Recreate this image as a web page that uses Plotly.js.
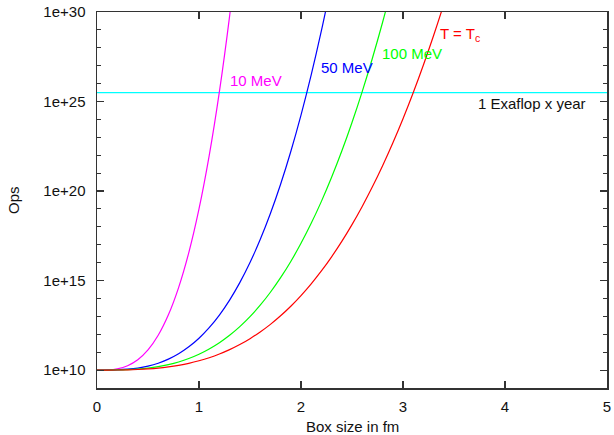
<!DOCTYPE html>
<html>
<head>
<meta charset="utf-8">
<script src="https://cdn.plot.ly/plotly-3.0.1.min.js"></script>
<style>html,body{margin:0;padding:0;background:#fff;}#chart{width:614px;height:435px;}</style>
</head>
<body>
<div id="chart"></div>
<script>
// Box size in fm (x values)
const boxSize = [0.0,0.1,0.2,0.3,0.4,0.5,0.6,0.7,0.8,0.9,1.0,1.1,1.2,1.3,1.4,1.5,1.6,1.7,1.8,1.9,2.0,2.1,2.2,2.3,2.4,2.5,2.6,2.7,2.8,2.9,3.0,3.1,3.2,3.3,3.4,3.5];

// Ops for each temperature
const ops10MeV = [1.00e10,1.02e10,1.18e10,1.75e10,3.77e10,1.33e11,8.79e11,1.22e13,4.06e14,3.64e16,1.00e19,9.53e21,3.56e25,5.93e29,4.97e34];
const ops50MeV = [1.00e10,1.00e10,1.03e10,1.12e10,1.30e10,1.67e10,2.42e10,4.08e10,8.15e10,1.99e11,6.03e11,2.34e12,1.19e13,8.15e13,7.66e14,1.02e16,1.95e17,5.56e18,2.40e20,1.62e22,1.74e24,3.05e26,8.98e28,4.54e31];
const ops100MeV = [1.00e10,1.00e10,1.02e10,1.06e10,1.14e10,1.29e10,1.55e10,2.01e10,2.84e10,4.42e10,7.67e10,1.51e11,3.38e11,8.79e11,2.68e12,9.70e12,4.22e13,2.23e14,1.45e15,1.17e16,1.20e17,1.57e18,2.65e19,5.86e20,1.71e22,6.73e23,3.59e25,2.62e27,2.68e29,3.84e31];
const opsTc = [1.00e10,1.00e10,1.01e10,1.03e10,1.08e10,1.16e10,1.29e10,1.51e10,1.85e10,2.39e10,3.31e10,4.92e10,7.92e10,1.39e11,2.67e11,5.69e11,1.35e12,3.59e12,1.08e13,3.69e13,1.45e14,6.54e14,3.44e15,2.12e16,1.54e17,1.33e18,1.38e19,1.72e20,2.60e21,4.81e22,1.10e24,3.10e25,1.10e27,4.86e28,2.75e30,1.97e32];

// 1 Exaflop x year
const exaflopYearX = [0, 5];
const exaflopYearOps = [3.15e25, 3.15e25];

const yTickVals = [1e10, 1e15, 1e20, 1e25, 1e30];
const yTickText = ['1e+10', '1e+15', '1e+20', '1e+25', '1e+30'];
const xTickVals = [0, 1, 2, 3, 4, 5];
const xTickText = ['0', '1', '2', '3', '4', '5'];

const seriesLabels = ['10 MeV', '50 MeV', '100 MeV', 'T = T<sub>c</sub>'];
const exaflopLabel = '1 Exaflop x year';

const font = 'Liberation Sans, Arial, Helvetica, sans-serif';

function line(y, color) {
  return {x: boxSize.slice(0, y.length), y: y, mode: 'lines', type: 'scatter',
    line: {color: color, width: 1.2, shape: 'spline', smoothing: 1}, hoverinfo: 'skip', cliponaxis: true};
}

const traces = [
  {x: exaflopYearX, y: exaflopYearOps, mode: 'lines', type: 'scatter', line: {color: '#00ffff', width: 1.2}},
  line(ops10MeV, '#ff00ff'),
  line(ops50MeV, '#0000ff'),
  line(ops100MeV, '#00ff00'),
  line(opsTc, '#ff0000')
];

const axisCommon = {
  showline: true, linecolor: '#333', linewidth: 1.5, mirror: 'allticks',
  ticks: 'inside', tickcolor: '#333', tickwidth: 1.2, ticklen: 7,
  showgrid: false, zeroline: false, tickfont: {family: font, size: 15, color: '#111'}
};

const layout = {
  width: 614, height: 435,
  margin: {l: 97, r: 7, t: 12, b: 47, pad: 0},
  paper_bgcolor: '#fff', plot_bgcolor: '#fff',
  showlegend: false,
  font: {family: font, size: 15, color: '#111'},
  xaxis: Object.assign({}, axisCommon, {
    range: [0, 5], tickmode: 'array', tickvals: xTickVals, ticktext: xTickText, ticklabelstandoff: 4
  }),
  yaxis: Object.assign({}, axisCommon, {
    type: 'log', range: [9, 30], tickmode: 'array', tickvals: yTickVals, ticktext: yTickText,
    ticklabelstandoff: 7,
    minor: {tickmode: 'linear', tick0: 0, dtick: 1, ticks: 'inside', ticklen: 4, tickcolor: '#333', tickwidth: 1}
  }),
  annotations: [
    {xref: 'paper', yref: 'paper', x: 0.5, y: 0, yshift: -38, text: 'Box size in fm', showarrow: false,
      font: {family: font, size: 15, color: '#111'}, xanchor: 'center', yanchor: 'middle'},
    {xref: 'paper', yref: 'paper', x: 0, y: 0.5, xshift: -84, text: 'Ops', textangle: -90, showarrow: false,
      font: {family: font, size: 15, color: '#111'}, xanchor: 'center', yanchor: 'middle'},
    {x: 1.56, y: 26.18, text: seriesLabels[0], showarrow: false, font: {family: font, size: 15, color: '#ff00ff'}},
    {x: 2.45, y: 26.91, text: seriesLabels[1], showarrow: false, font: {family: font, size: 15, color: '#0000ff'}},
    {x: 3.09, y: 27.69, text: seriesLabels[2], showarrow: false, font: {family: font, size: 15, color: '#00ff00'}},
    {x: 3.343, y: 28.73, text: seriesLabels[3], showarrow: false, xanchor: 'left', yanchor: 'middle',
      font: {family: font, size: 15, color: '#ff0000'}},
    {x: 3.716, y: 24.89, text: exaflopLabel, showarrow: false, xanchor: 'left', yanchor: 'middle',
      font: {family: font, size: 15, color: '#111'}}
  ]
};

Plotly.newPlot('chart', traces, layout, {staticPlot: true, displayModeBar: false});
</script>
</body>
</html>
